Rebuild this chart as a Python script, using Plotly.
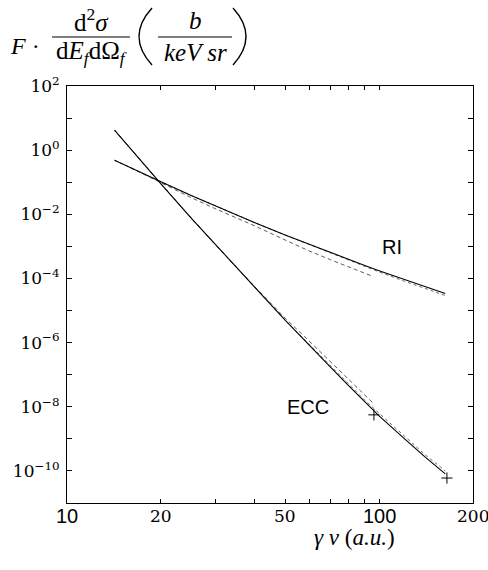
import numpy as np
import plotly.graph_objects as go

# ---- data ----
ri_x = [14.2, 16, 18, 20, 25, 30, 40, 50, 60, 70, 80, 90, 100, 120, 140, 163]
ri_solid = [0.487, 0.281, 0.1645, 0.103, 0.0387, 0.0179, 5.5e-3, 2.26e-3, 1.13e-3,
            6.33e-4, 3.89e-4, 2.54e-4, 1.75e-4, 9.37e-5, 5.6e-5, 3.42e-5]
ri_dot = [0.487, 0.281, 0.1645, 0.103, 0.0387, 0.0179, 5.5e-3, 2.26e-3, 1.12e-3,
          6.1e-4, 3.67e-4, 2.35e-4, 1.6e-4, 8.36e-5, 4.9e-5, 2.94e-5]

ri_dash_x = [16, 18, 20, 25, 30, 40, 50, 60, 70, 80, 90, 95.7]
ri_dash = [0.281, 0.159, 0.0944, 0.0331, 0.01466, 4.34e-3, 1.58e-3, 7.06e-4,
           3.82e-4, 2.26e-4, 1.45e-4, 1.15e-4]

ecc_x = [14.2, 16, 18, 20, 25, 30, 40, 50, 60, 70, 80, 90, 100, 120, 140, 163]
ecc_solid = [4.2, 1.07, 0.288, 0.089, 7.66e-3, 1.08e-3, 5.27e-5, 5.0e-6, 8.3e-7,
             1.7e-7, 4.47e-8, 1.38e-8, 5.2e-9, 1.05e-9, 2.78e-10, 8.1e-11]
ecc_dot = [4.2, 1.07, 0.288, 0.089, 7.66e-3, 1.08e-3, 5.27e-5, 5.0e-6, 8.3e-7,
           1.82e-7, 4.98e-8, 1.6e-8, 6.3e-9, 1.26e-9, 3.3e-10, 1.0e-10]

ecc_dash_x = [14.2, 16, 18, 20, 25, 30, 40, 50, 60, 70, 80, 90, 96.3]
ecc_dash = [4.2, 1.07, 0.288, 0.089, 7.66e-3, 1.08e-3, 5.5e-5, 5.8e-6, 1.07e-6,
            2.5e-7, 6.9e-8, 2.3e-8, 1.23e-8]

cross_x = [96.3, 165]
cross_y = [5.6e-9, 6e-11]

x_ticks = [20, 30, 40, 50, 60, 70, 80, 90, 100]
x_labels = ["10", "20", "50", "100", "200"]
x_label_vals = [10, 20, 50, 100, 200]
x_label_sans = [True, False, False, True, False]

y_exps = list(range(2, -12, -1))

# ---- figure ----
W, H = 488, 570
L, R, T, B = 67, 15, 86, 67
PW, PH = W - L - R, H - T - B


def px(xp, yp):
    return (xp - L) / PW, (H - B - yp) / PH


fig = go.Figure()


def add_line(x, y, dash, color="black", width=1.0):
    fig.add_trace(go.Scatter(x=x, y=y, mode="lines",
                             line=dict(color=color, width=width, dash=dash),
                             showlegend=False, hoverinfo="skip"))


add_line(ri_x, ri_dot, "dot", "#555", 0.9)
add_line(ri_dash_x, ri_dash, "4px,3px", "#333", 0.8)
add_line(ri_x, ri_solid, "solid", "black", 1.1)
add_line(ecc_x, ecc_dot, "dot", "#555", 0.9)
add_line(ecc_dash_x, ecc_dash, "4px,3px", "#333", 0.8)
add_line(ecc_x, ecc_solid, "solid", "black", 1.1)

fig.add_trace(go.Scatter(x=cross_x, y=cross_y, mode="markers",
                         marker=dict(symbol="cross-thin", size=8,
                                     line=dict(color="black", width=1)),
                         showlegend=False, hoverinfo="skip"))

serif = "Liberation Serif"
serif_num = "DejaVu Serif"
sans = "Liberation Sans"

fig.update_xaxes(type="log", range=[1, np.log10(200)],
                 tickvals=x_ticks, ticktext=[""] * len(x_ticks),
                 ticks="inside", ticklen=4, tickcolor="black", tickwidth=1,
                 showline=True, linecolor="black", linewidth=1, mirror="ticks",
                 showgrid=False, zeroline=False)

y_vals = [10.0 ** e for e in y_exps]
y_text = []
for e in y_exps:
    if e % 2 == 0:
        s = str(e).replace("-", "\u2212")
        y_text.append("10<sup>" + s + "</sup>")
    else:
        y_text.append("")
fig.update_yaxes(type="log", range=[-11, 2],
                 tickvals=y_vals, ticktext=y_text,
                 ticks="inside", ticklen=5, tickcolor="black", tickwidth=1,
                 showline=True, linecolor="black", linewidth=1, mirror="ticks",
                 showgrid=False, zeroline=False,
                 tickfont=dict(family=serif_num, size=17, color="black"),
                 ticklabelstandoff=3)

ann = []
# x tick labels
for v, t, sn in zip(x_label_vals, x_labels, x_label_sans):
    ann.append(dict(x=np.log10(v), xref="x", y=0, yref="paper", yshift=-13,
                    text=t, showarrow=False, xanchor="center", yanchor="middle",
                    font=dict(family=sans if sn else serif_num,
                              size=20 if sn else 17, color="black")))

# x title
ax, ay = px(354, 537)
ann.append(dict(x=ax, y=ay, xref="paper", yref="paper", showarrow=False,
                text="<i>\u03b3 v</i> (<i>a.u.</i>)", xanchor="center", yanchor="middle",
                font=dict(family=serif, size=23, color="black")))

# curve labels
for t, (xp, yp) in [("RI", (392, 247)), ("ECC", (308, 407))]:
    a, b = px(xp, yp)
    ann.append(dict(x=a, y=b, xref="paper", yref="paper", showarrow=False, text=t,
                    xanchor="center", yanchor="middle",
                    font=dict(family=sans, size=20, color="black")))


# y title (formula)
def tann(text, xp, yp, size=25, xanchor="center"):
    a, b = px(xp, yp)
    ann.append(dict(x=a, y=b, xref="paper", yref="paper", showarrow=False, text=text,
                    xanchor=xanchor, yanchor="middle",
                    font=dict(family=serif, size=size, color="black")))


tann("<i>F</i> \u00b7", 8, 46, 24, "left")
tann("d<sup>2</sup><i>\u03c3</i>", 91, 20, 25)
tann("d<i>E</i><sub><i>f</i></sub>d\u03a9<sub><i>f</i></sub>", 91, 52, 25)
tann("<i>b</i>", 195, 20, 25)
tann("<i>keV sr</i>", 195, 52, 25)

shapes = []
for x0, x1 in [(52, 130), (158, 232)]:
    a0, b0 = px(x0, 37)
    a1, _ = px(x1, 37)
    shapes.append(dict(type="line", xref="paper", yref="paper", x0=a0, x1=a1,
                       y0=b0, y1=b0, line=dict(color="black", width=1)))

# parentheses drawn as thin curves
for (xa, xb) in [(152, 139), (233, 246)]:
    a0, b0 = px(xa, 8)
    am, bm = px(xb, 36.5)
    a1, b1 = px(xa, 65)
    path = f"M {a0},{b0} Q {2*am - (a0 + a1)/2},{bm} {a1},{b1}"
    shapes.append(dict(type="path", xref="paper", yref="paper", path=path,
                       line=dict(color="black", width=1.4)))

fig.update_layout(width=W, height=H, margin=dict(l=L, r=R, t=T, b=B),
                  paper_bgcolor="white", plot_bgcolor="white",
                  annotations=ann, shapes=shapes, showlegend=False)

fig.write_html("out.html")
